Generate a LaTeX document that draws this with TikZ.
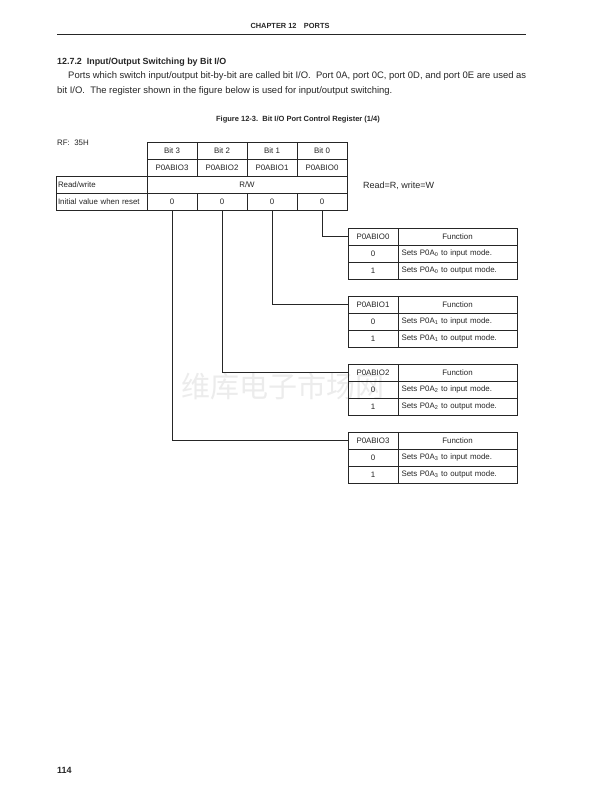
\documentclass[tikz,border=0pt]{standalone}
\usepackage{fontspec}
\setmainfont{Liberation Sans}
\newfontfamily\cjk{Noto Sans CJK SC}
\definecolor{ink}{gray}{0.15}
\tikzset{
  cell/.style={draw=ink, line width=0.6pt, minimum height=17pt, inner sep=0pt,
    text=ink, font=\fontsize{7.9}{8.5}\selectfont},
  bitcell/.style={cell, minimum width=50pt},
  labcell/.style={cell, minimum width=91pt, text width=87pt, align=left},
  fncell/.style={cell, minimum width=119pt, text width=112pt, align=left},
  body/.style={anchor=west, inner sep=0pt, text=ink, font=\fontsize{9.45}{11}\selectfont},
  link/.style={draw=ink, line width=0.6pt}
}
\begin{document}
\begin{tikzpicture}[x=1pt, y=-1pt]
  \useasboundingbox[fill=white] (0,0) rectangle (612,792);

  % Kopf der Seite
  \node[inner sep=0pt, text=ink, font=\fontsize{7.4}{9}\selectfont\bfseries] (kopf) at (290,26) {CHAPTER 12\quad PORTS};
  \draw[ink, line width=0.7pt] (57,34) -- (526,34);

  % Text
  \node[body, font=\fontsize{8.9}{11}\selectfont\bfseries] (titel) at (57,62) {12.7.2\ \ Input/Output Switching by Bit I/O};
  \node[body] (zeile1) at (68,76) {Ports which switch input/output bit-by-bit are called bit I/O.\ \ Port 0A, port 0C, port 0D, and port 0E are used as};
  \node[body] (zeile2) at (57,91) {bit I/O.\ \ The register shown in the figure below is used for input/output switching.};
  \node[inner sep=0pt, text=ink, font=\fontsize{7.5}{9}\selectfont\bfseries] (bild) at (298,120) {Figure 12-3.\ \ Bit I/O Port Control Register (1/4)};

  % Wasserzeichen
  \node[inner sep=0pt, text=gray!15, font=\cjk\fontsize{29}{30}\selectfont] (marke) at (283,386) {维库电子市场网};

  % Register
  \node[body, font=\fontsize{7.9}{8.5}\selectfont] (rf) at (57,143) {RF:\ \ 35H};
  \foreach \b in {0,...,3} {
    \node[bitcell] (bit\b) at (322-50*\b,150.5) {Bit \b};
    \node[bitcell] (name\b) at (322-50*\b,167.5) {P0ABIO\b};
    \node[bitcell] (init\b) at (322-50*\b,201.5) {0};
  }
  \node[labcell] (rw) at (101.5,184.5) {Read/write};
  \node[cell, minimum width=200pt] (rwwert) at (247,184.5) {R/W};
  \node[labcell] (reset) at (101.5,201.5) {Initial value when reset};
  \node[body, font=\fontsize{9}{10}\selectfont] (legende) at (363,186) {Read=R, write=W};

  % Funktionstabellen
  \foreach \b/\t in {0/228,1/296,2/364,3/432} {
    \node[bitcell] (kopf\b) at (373,\t+8.5) {P0ABIO\b};
    \node[fncell, align=center] (fkt\b) at (457.5,\t+8.5) {Function};
    \node[bitcell] (null\b) at (373,\t+25.5) {0};
    \node[fncell] (ein\b) at (457.5,\t+25.5) {Sets P0A\textsubscript{\b} to input mode.};
    \node[bitcell] (eins\b) at (373,\t+42.5) {1};
    \node[fncell] (aus\b) at (457.5,\t+42.5) {Sets P0A\textsubscript{\b} to output mode.};
    \draw[link] (init\b.south) |- (kopf\b.west);
  }

  % Seitenzahl
  \node[body, font=\fontsize{9}{11}\selectfont\bfseries] (seite) at (57,770) {114};
\end{tikzpicture}
\end{document}
